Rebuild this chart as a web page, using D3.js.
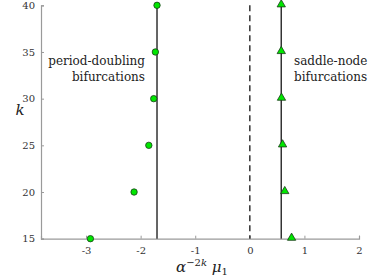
<!DOCTYPE html>
<html><head><meta charset="utf-8">
<script src="https://cdn.jsdelivr.net/npm/d3@7"></script>
<style>body{margin:0;background:#fff}svg{display:block}</style>
</head><body><svg id="c" width="371" height="278"></svg>
<script>
const kValues = [15, 20, 25, 30, 35, 40];
const periodDoubling = [-2.92, -2.12, -1.85, -1.76, -1.73, -1.70];
const saddleNode = [0.765, 0.64, 0.60, 0.58, 0.576, 0.576];
const pdLimit = -1.70;
const snLimit = 0.576;
const xTicks = [-3, -2, -1, 0, 1, 2];
const yTicks = [15, 20, 25, 30, 35, 40];

const FONT = "DejaVu Serif";
const svg = d3.select("#c");
const x = d3.scaleLinear().domain([-3.825, 2]).range([41, 359]);
const y = d3.scaleLinear().domain([15, 40]).range([238.7, 5.3]);
const grey = "#9a9a9a";

// axes
const xa = svg.append("g").attr("transform", `translate(0,${y(15)})`)
  .call(d3.axisBottom(x).tickValues(xTicks).tickSize(-3).tickPadding(8).tickFormat(d3.format("d")));
const ya = svg.append("g").attr("transform", `translate(${x(-3.825)},0)`)
  .call(d3.axisLeft(y).tickValues(yTicks).tickSize(-3).tickPadding(6).tickFormat(d3.format("d")));
[xa, ya].forEach(a => {
  a.attr("font-family", FONT).attr("font-size", 10);
  a.select(".domain").attr("stroke", grey).attr("stroke-width", 1.2);
  a.selectAll(".tick line").attr("stroke", grey);
  a.selectAll(".tick text").attr("fill", "#333");
});
xa.selectAll(".tick text").text(d => d < 0 ? "-" + Math.abs(d) : d);

// vertical lines
svg.append("line").attr("x1", x(pdLimit)).attr("x2", x(pdLimit)).attr("y1", y(40)).attr("y2", y(15))
  .attr("stroke", "#333").attr("stroke-width", 1.5);
svg.append("line").attr("x1", x(snLimit)).attr("x2", x(snLimit)).attr("y1", y(40)).attr("y2", y(15))
  .attr("stroke", "#333").attr("stroke-width", 1.5);
svg.append("line").attr("x1", x(0)).attr("x2", x(0)).attr("y1", y(40)).attr("y2", y(15))
  .attr("stroke", "#333").attr("stroke-width", 1.5).attr("stroke-dasharray", "6,4");

// markers
svg.append("g").selectAll("circle").data(kValues).join("circle")
  .attr("cx", (d, i) => x(periodDoubling[i])).attr("cy", d => y(d)).attr("r", 3.2)
  .attr("fill", "#00e600").attr("stroke", "#1a3a1a").attr("stroke-width", 0.8);
const tri = d3.symbol().type(d3.symbolTriangle).size(30);
svg.append("g").selectAll("path").data(kValues).join("path")
  .attr("d", tri)
  .attr("transform", (d, i) => `translate(${x(saddleNode[i])},${y(d) - 0.8})`)
  .attr("fill", "#00e600").attr("stroke", "#1a3a1a").attr("stroke-width", 0.8);

// annotations
const ann = svg.append("g").attr("font-family", FONT).attr("font-size", 12).attr("fill", "#222");
ann.append("text").attr("x", 145).attr("y", 65).attr("text-anchor", "end").text("period-doubling");
ann.append("text").attr("x", 145).attr("y", 81).attr("text-anchor", "end").text("bifurcations");
ann.append("text").attr("x", 294).attr("y", 65).text("saddle-node");
ann.append("text").attr("x", 294).attr("y", 81).text("bifurcations");

// axis labels
svg.append("text").attr("x", 20).attr("y", 115).attr("text-anchor", "middle").attr("font-family", FONT)
  .attr("font-size", 15).attr("font-style", "italic").attr("fill", "#222").text("k");
const xl = svg.append("text").attr("x", 176).attr("y", 272).attr("font-family", FONT).attr("font-size", 15)
  .attr("font-style", "italic").attr("fill", "#222");
xl.append("tspan").text("α");
xl.append("tspan").attr("dy", -6).attr("font-size", 10).attr("font-style", "normal").text("−2");
xl.append("tspan").attr("font-size", 10).text("k");
xl.append("tspan").attr("dy", 6).text(" μ");
xl.append("tspan").attr("dy", 3).attr("font-size", 10).attr("font-style", "normal").text("1");
</script></body></html>
